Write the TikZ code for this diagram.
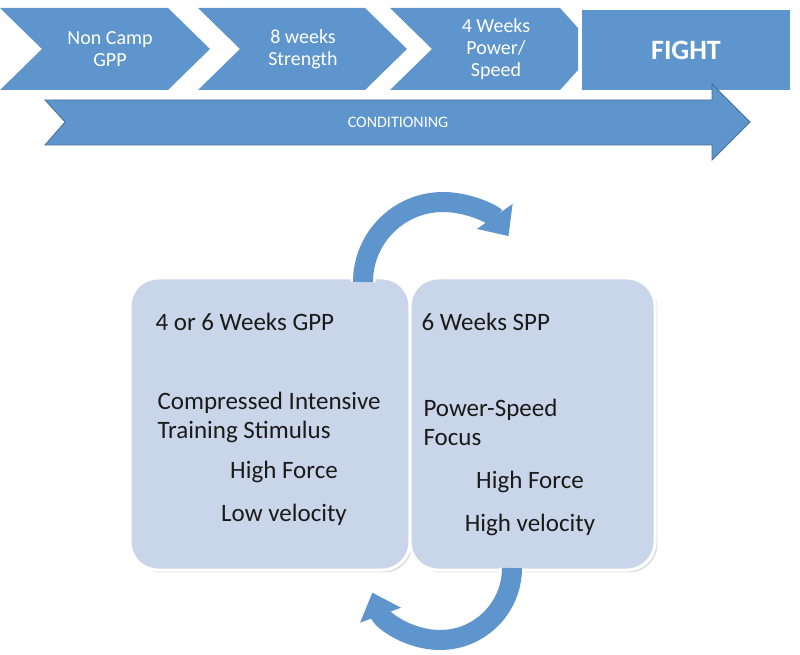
\documentclass[tikz,border=0pt]{standalone}
\usepackage{fontspec}
\setmainfont{Carlito}
\usetikzlibrary{arrows.meta,shadows}
\definecolor{bar}{HTML}{5E95CC}
\definecolor{boxc}{HTML}{C9D5E8}
\definecolor{txt}{HTML}{1A1A1A}
\begin{document}
\begin{tikzpicture}[x=1pt,y=1pt,
  chev/.style={fill=bar,draw=none},
  wt/.style={text=white,align=center,font=\fontsize{20}{22}\selectfont},
  pbox/.style={fill=boxc,draw=white,line width=3pt,rounded corners=28pt,drop shadow={opacity=0.25}},
  bt/.style={text=txt,font=\fontsize{25}{29}\selectfont,anchor=west},
  ct/.style={text=txt,font=\fontsize{25}{29}\selectfont},
  circarrow/.style={line width=20pt,draw=bar,-{Triangle[width=42pt,length=24pt]},preaction={draw=white,line width=25pt,-{Triangle[width=48pt,length=28pt]}}}]
\useasboundingbox (0,0) rectangle (800,654);
% chevrons (y up = 654 - y_img)
\fill[chev] (0,646) -- (168,646) -- (210,605) -- (168,564) -- (0,564) -- (42,605) -- cycle;
\fill[chev] (198,646) -- (365,646) -- (407,605) -- (365,564) -- (198,564) -- (240,605) -- cycle;
\fill[chev] (390,646) -- (560,646) -- (578,626) -- (578,584) -- (560,564) -- (390,564) -- (432,605) -- cycle;
\fill[chev] (582,644) rectangle (790,564);
\node[wt] (n1) at (110,605) {Non Camp\\GPP};
\node[wt] (n2) at (303,605) {8 weeks\\Strength};
\node[wt] (n3) at (496,605) {4 Weeks\\Power/\\Speed};
\node[wt,font=\bfseries\fontsize{28}{30}\selectfont] (n4) at (686,604) {FIGHT};
% conditioning arrow
\fill[bar,draw=bar!75!black,line width=0.8pt] (45,554) -- (712,554) -- (712,570) -- (750,532) -- (712,494) -- (712,509) -- (45,509) -- (65,532) -- cycle;
\node[text=white,font=\fontsize{16}{18}\selectfont] (cond) at (398,532) {CONDITIONING};
% boxes
\draw[pbox] (130,84) rectangle (410,376);
\draw[pbox] (410,84) rectangle (655,376);
\node[bt] (l1) at (152,332) {4 or 6 Weeks GPP};
\node[bt,align=left] (l2) at (154,237) {Compressed Intensive\\Training Stimulus};
\node[ct] (l3) at (284,182) {High Force};
\node[ct] (l4) at (284,139) {Low velocity};
\node[bt] (r1) at (418,332) {6 Weeks SPP};
\node[bt,align=left] (r2) at (420,232) {Power-Speed\\Focus};
\node[ct] (r3) at (530,172) {High Force};
\node[ct] (r4) at (530,129) {High velocity};
% circular arrows
\coordinate (tc) at (443,372);
\draw[circarrow] (363,372) arc[start angle=180,end angle=35,radius=80];
\draw[circarrow] (512,86) arc[start angle=0,end angle=-160,radius=72];
\end{tikzpicture}
\end{document}
